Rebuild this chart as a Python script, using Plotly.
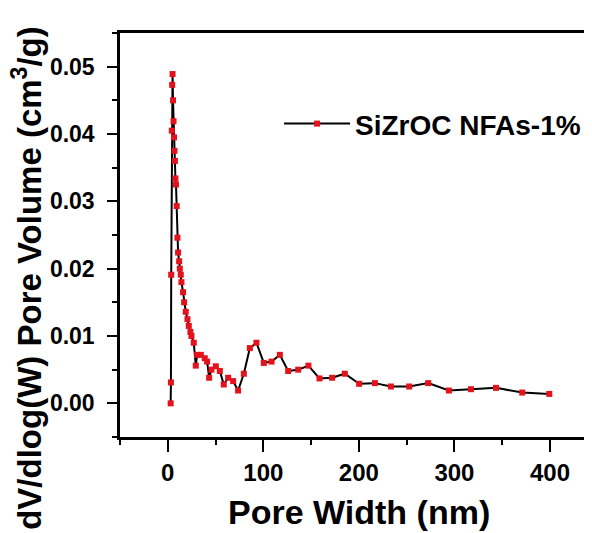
import plotly.graph_objects as go

pore_width = [3.0, 3.3, 3.6, 4.2, 4.6, 5.0, 5.5, 6.0, 6.5, 7.0, 7.5, 8.0, 8.6, 9.3, 10.1, 10.8,
              11.9, 12.6, 13.6, 14.3, 16.0, 17.1, 18.8, 20.6, 22.0, 23.7, 24.8, 27.2, 29.3, 30.7,
              34.6, 38.7, 41.2, 43.3, 45.7, 50.3, 54.5, 58.6, 63.2, 68.4, 73.6, 79.6, 85.9, 92.8,
              100.5, 108.6, 117.3, 126.0, 136.5, 147.2, 158.8, 172.0, 185.3, 200.3, 216.8, 233.5,
              252.7, 272.6, 294.2, 317.3, 343.5, 371.0, 399.3]
pore_volume = [0.0000, 0.0031, 0.0191, 0.0405, 0.0473, 0.0489, 0.0450, 0.0419, 0.0395, 0.0375,
               0.0360, 0.0334, 0.0325, 0.0293, 0.0246, 0.0224, 0.0211, 0.0200, 0.0191, 0.0180,
               0.0165, 0.0150, 0.0136, 0.0125, 0.0115, 0.0106, 0.0100, 0.0090, 0.0056, 0.0072,
               0.0072, 0.0067, 0.0062, 0.0038, 0.0050, 0.0055, 0.0048, 0.0028, 0.0038, 0.0033,
               0.0019, 0.0044, 0.0082, 0.0090, 0.0060, 0.0062, 0.0072, 0.0048, 0.0050, 0.0056,
               0.0037, 0.0038, 0.0044, 0.0029, 0.0030, 0.0025, 0.0025, 0.0030, 0.0019, 0.0021,
               0.0023, 0.0016, 0.0014]
series_name = "SiZrOC NFAs-1%"
x_ticks = [0, 100, 200, 300, 400]
y_ticks = [0.00, 0.01, 0.02, 0.03, 0.04, 0.05]

FONT = "Liberation Sans, Arial, sans-serif"

fig = go.Figure()
fig.add_trace(go.Scatter(
    x=pore_width, y=pore_volume, mode="lines+markers", name=series_name,
    line=dict(color="black", width=2),
    marker=dict(symbol="square", size=6, color="#e3121b"),
))

fig.update_layout(
    template="none",
    width=584, height=525,
    margin=dict(l=112, r=0, t=25, b=96, pad=0, autoexpand=False),
    paper_bgcolor="white", plot_bgcolor="white",
    font=dict(family=FONT, color="black"),
    showlegend=True,
    legend=dict(x=0.337, y=0.775, xanchor="left", yanchor="middle",
                bgcolor="rgba(0,0,0,0)", itemwidth=66, borderwidth=0,
                font=dict(family=FONT, size=28, color="black", weight="bold")),
    xaxis=dict(range=[-50, 444], tickvals=x_ticks, showgrid=False, zeroline=False,
               automargin=False,
               showline=True, linecolor="black", linewidth=2.5, mirror=True,
               ticks="outside", ticklen=12, tickwidth=2, tickcolor="black",
               tickfont=dict(family=FONT, size=24, color="black", weight="bold"),
               minor=dict(dtick=50, tick0=0, ticks="outside", ticklen=5, tickwidth=2,
                          tickcolor="black", showgrid=False)),
    yaxis=dict(range=[-0.005, 0.055], tickvals=y_ticks, tickformat=".2f",
               showgrid=False, zeroline=False, automargin=False,
               showline=True, linecolor="black", linewidth=2.5, mirror=False,
               ticks="outside", ticklen=10, tickwidth=2, tickcolor="black",
               ticklabelstandoff=8,
               tickfont=dict(family=FONT, size=23, color="black", weight="bold"),
               minor=dict(dtick=0.005, tick0=0, ticks="outside", ticklen=5, tickwidth=2,
                          tickcolor="black", showgrid=False)),
)

fig.add_annotation(text="Pore Width (nm)", xref="paper", yref="paper", x=0.506, y=0,
                   yshift=-75, xanchor="center", yanchor="middle", showarrow=False,
                   font=dict(family=FONT, size=34, color="black", weight="bold"))
fig.add_annotation(text="dV/dlog(W) Pore Volume (cm<sup>3</sup>/g)", xref="paper", yref="paper",
                   x=0, xshift=-93, y=0.4015, yshift=-3, xanchor="center", yanchor="middle",
                   textangle=-90, showarrow=False,
                   font=dict(family=FONT, size=33, color="black", weight="bold"))

fig.write_html("out.html")
